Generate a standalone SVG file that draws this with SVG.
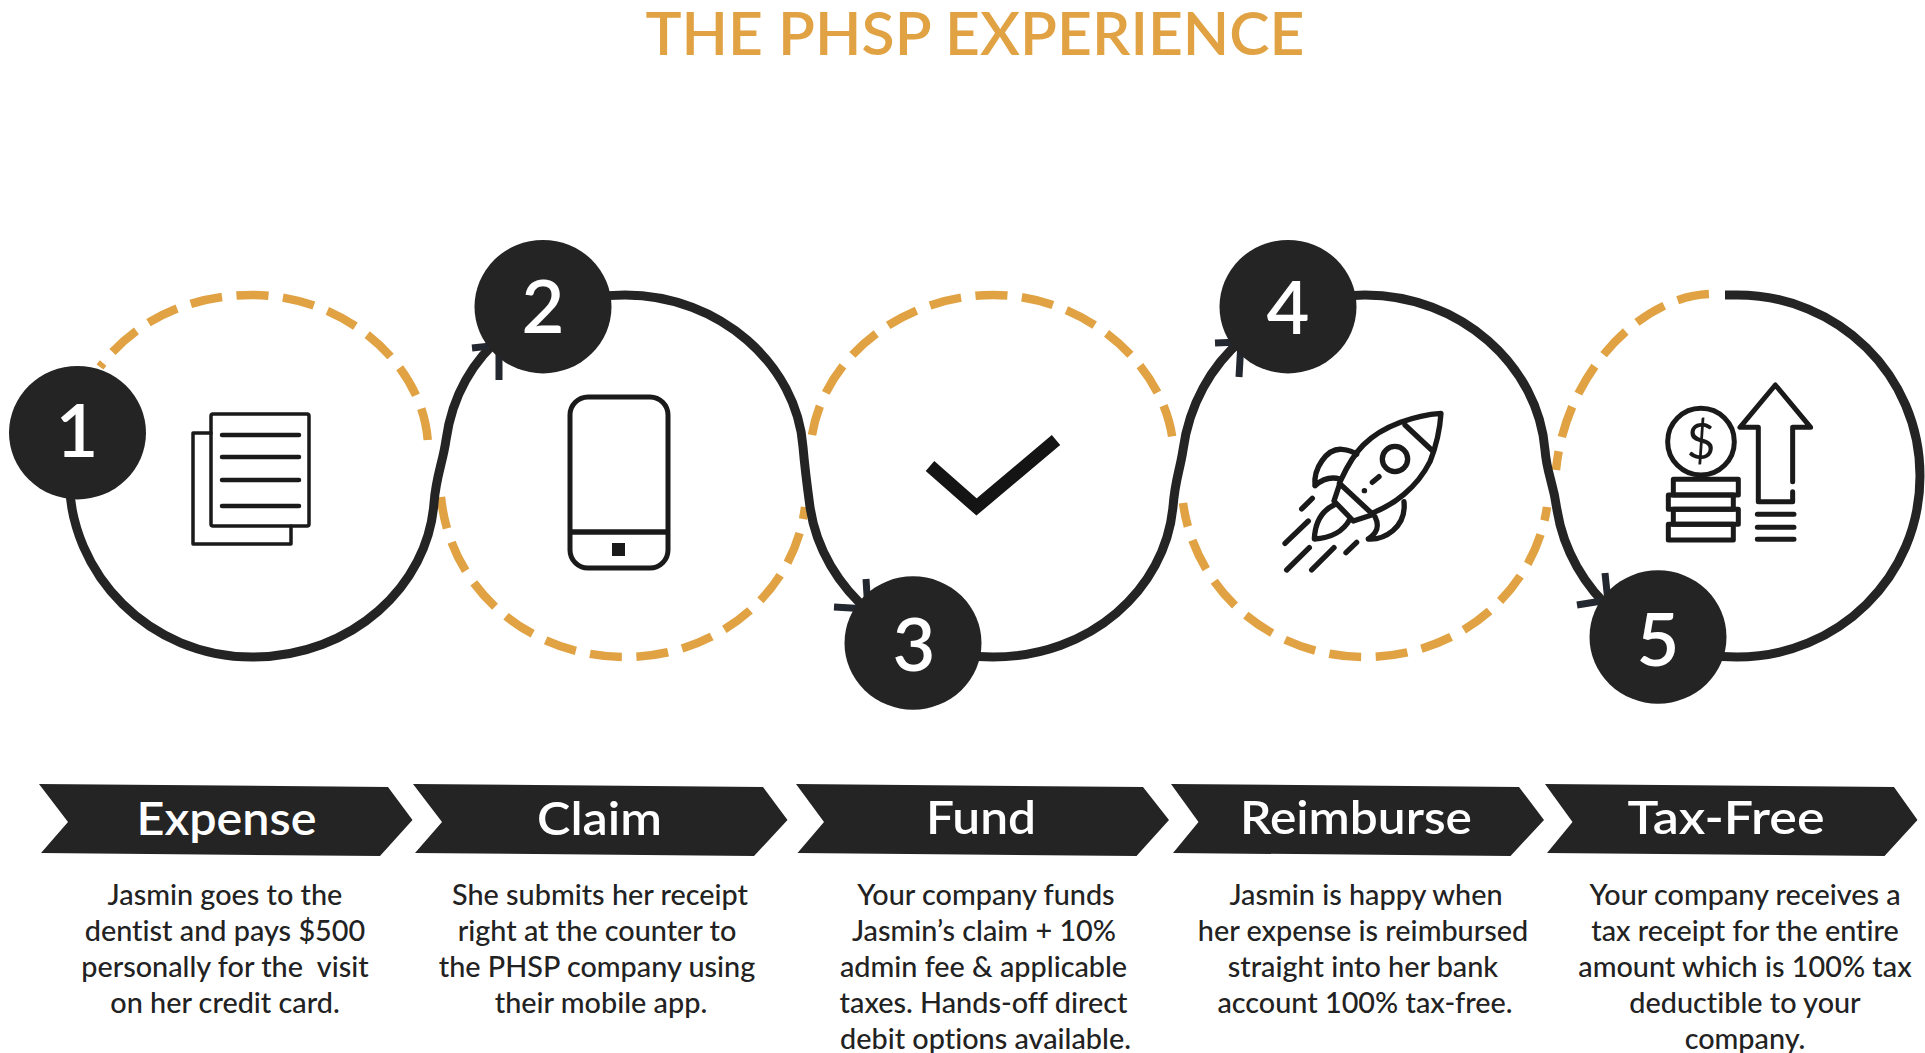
<svg xmlns="http://www.w3.org/2000/svg" width="1925" height="1053" viewBox="0 0 1925 1053">
<style>
text{font-family:Lato,"Open Sans",sans-serif;font-variant-ligatures:none}
.title{font-size:60px;font-weight:600;fill:#E0A243;text-anchor:middle}
.curve{fill:none;stroke:#242424;stroke-width:9}
.gold{fill:none;stroke:#E0A243;stroke-width:8.500;stroke-dasharray:32 14.500}
.head{fill:none;stroke:#23272f;stroke-width:7}
.badge{fill:#242424}
.num{font-size:74px;font-weight:600;fill:#fff;text-anchor:middle}
.chev{fill:#242424}
.hd{font-size:47px;font-weight:600;fill:#fff;text-anchor:middle}
.body{font-size:28.800px;font-weight:500;fill:#222;text-anchor:middle}
.ic{fill:none;stroke:#1a1a1a;stroke-linecap:round;stroke-linejoin:round}
</style>
<rect width="1925" height="1053" fill="#fff"/>
<text class="title" x="975" y="55" textLength="659" lengthAdjust="spacingAndGlyphs">THE PHSP EXPERIENCE</text>
<g id="connectors">
<path class="gold" stroke-dashoffset="27" d="M100 367C135 320 190 295 252 295C345 295 425 365 428 445"/>
<path class="gold" d="M441 497C450 590 530 657 625 657C720 657 795 590 805 507"/>
<path class="gold" stroke-dashoffset="2" d="M812 435C825 355 905 295 993 295C1085 295 1165 365 1173 443"/>
<path class="gold" stroke-dashoffset="8" d="M1183 503C1195 590 1270 657 1365 657C1460 657 1535 590 1547 507"/>
<path class="gold" stroke-dashoffset="13" d="M1556 470C1565 375 1640 295 1712 294"/>
<path class="curve" d="M69 476C69 576 151 657 252 657C353 657 428 585 434 503C436 476 443 462 446 440C458 352 530 295 625 295C720 295 797 365 803 447C805 470 807 485 810 507C822 590 900 657 993 657C1090 657 1165 590 1173 507C1175 480 1180 470 1183 450C1195 360 1270 295 1365 295C1460 295 1538 365 1545 450C1547 475 1553 480 1557 510C1570 590 1640 657 1737 657C1838 657 1920 577 1920 476C1920 375 1838 295 1737 295L1725 295"/>
<path class="head" d="M472 348L500 345M499 380L499 345"/>
<path class="head" d="M834 607L868 609M866 579L868 611"/>
<path class="head" d="M1215 343L1241 342M1239 377L1241 342"/>
<path class="head" d="M1577 605L1608 600M1605 573L1608 602"/>
</g>
<g id="step-1">
<ellipse class="badge" cx="77.500" cy="432.700" rx="68.500" ry="66.700"/>
<text class="num" x="77" y="457">1</text>
<g class="ic">
<path stroke-width="3.500" d="M211 433H193V544H291V526"/>
<rect stroke-width="3.500" x="211" y="414" width="98" height="112" rx="2"/>
<path stroke-width="4.500" d="M222 435H299M222 457H299M222 480H299M222 506H299"/>
</g>
<polygon class="chev" points="39,784 388,787 412.500,820 380,856 41,853 68,822"/>
<text class="hd" x="226.500" y="835" textLength="180" lengthAdjust="spacingAndGlyphs">Expense</text>
<text class="body" x="225" y="905">Jasmin goes to the</text>
<text class="body" x="225" y="941">dentist and pays $500</text>
<text class="body" x="225" y="977" xml:space="preserve">personally for the  visit</text>
<text class="body" x="225" y="1013">on her credit card.</text>
</g>
<g id="step-2">
<ellipse class="badge" cx="543" cy="306.700" rx="68.500" ry="66.700"/>
<text class="num" x="543" y="333">2</text>
<g class="ic">
<rect stroke-width="5" x="570" y="397" width="98" height="171" rx="18"/>
<path stroke-width="5.500" stroke-linecap="butt" d="M570 532H668"/>
<rect x="612" y="543" width="13" height="13" fill="#1a1a1a" stroke="none"/>
</g>
<polygon class="chev" points="413,784 763,787 787.500,820 754,856 415,853 442,822"/>
<text class="hd" x="599.500" y="835" textLength="125" lengthAdjust="spacingAndGlyphs">Claim</text>
<text class="body" x="600" y="905">She submits her receipt</text>
<text class="body" x="597" y="941">right at the counter to</text>
<text class="body" x="597" y="977">the PHSP company using</text>
<text class="body" x="601" y="1013">their mobile app.</text>
</g>
<g id="step-3">
<ellipse class="badge" cx="913" cy="643" rx="68.500" ry="66.700"/>
<text class="num" x="914" y="671">3</text>
<path fill="none" stroke="#141414" stroke-width="13" d="M930 466L976.500 507L1056 440"/>
<polygon class="chev" points="796,784 1143,787 1169,820 1136.500,856 797.500,853 824,822"/>
<text class="hd" x="981" y="834" textLength="110" lengthAdjust="spacingAndGlyphs">Fund</text>
<text class="body" x="986" y="905">Your company funds</text>
<text class="body" x="984" y="941">Jasmin’s claim + 10%</text>
<text class="body" x="983.500" y="977">admin fee &amp; applicable</text>
<text class="body" x="983.500" y="1013">taxes. Hands-off direct</text>
<text class="body" x="985.500" y="1049">debit options available.</text>
</g>
<g id="step-4">
<ellipse class="badge" cx="1288" cy="306.700" rx="68.500" ry="66.700"/>
<text class="num" x="1288" y="334">4</text>
<g class="ic" transform="translate(1260 395) scale(.3333)" stroke-width="16">
<path d="M543 55C470 60 370 90 310 150C270 190 250 240 238 265L335 355C400 330 470 280 510 200C530 150 540 100 543 55Z"/>
<path d="M435 90L515 165"/>
<circle cx="405" cy="192" r="38"/>
<path d="M337 262L357 245M313 287L313.500 287"/>
<path d="M165 272C160 220 200 160 245 163C265 165 280 170 290 178M165 272C190 250 215 245 240 252"/>
<path d="M325 432C370 435 440 400 432 320M325 432C350 415 360 395 345 365"/>
<path d="M238 270L222 318L280 378L335 360"/>
<path d="M222 330C180 350 165 390 163 432C210 430 250 410 270 372"/>
<path d="M125 342L157 310M75 445L145 378M80 525L148 458M155 525L222 458M258 473L290 442"/>
</g>
<polygon class="chev" points="1171,784 1519,787 1544,820 1510.500,856 1173,853 1198.500,822"/>
<text class="hd" x="1356" y="834" textLength="232" lengthAdjust="spacingAndGlyphs">Reimburse</text>
<text class="body" x="1366" y="905">Jasmin is happy when</text>
<text class="body" x="1363" y="941">her expense is reimbursed</text>
<text class="body" x="1363" y="977">straight into her bank</text>
<text class="body" x="1365" y="1013">account 100% tax-free.</text>
</g>
<g id="step-5">
<ellipse class="badge" cx="1658" cy="637" rx="68.500" ry="66.700"/>
<text class="num" x="1658" y="666">5</text>
<g class="ic" transform="translate(1620 370) scale(.3333)" stroke-width="15">
<circle cx="243" cy="215" r="100"/>
<rect x="160" y="328" width="195" height="47"/>
<rect x="145" y="375" width="195" height="43"/>
<rect x="160" y="418" width="195" height="45"/>
<rect x="145" y="463" width="195" height="47"/>
<path d="M518 335V172H572L466 45L360 172H415V395H518V365"/>
<path d="M412 433H522M412 472H522M412 508H522"/>
</g>
<text x="1701" y="459" font-size="50" fill="#1a1a1a" text-anchor="middle">$</text>
<polygon class="chev" points="1545,784 1894,787 1917.500,820 1884.500,856 1547,853 1572.500,822"/>
<text class="hd" x="1726" y="834" textLength="197" lengthAdjust="spacingAndGlyphs">Tax-Free</text>
<text class="body" x="1745" y="905">Your company receives a</text>
<text class="body" x="1745" y="941">tax receipt for the entire</text>
<text class="body" x="1745" y="977">amount which is 100% tax</text>
<text class="body" x="1745" y="1013">deductible to your</text>
<text class="body" x="1745" y="1049">company.</text>
</g>
</svg>
